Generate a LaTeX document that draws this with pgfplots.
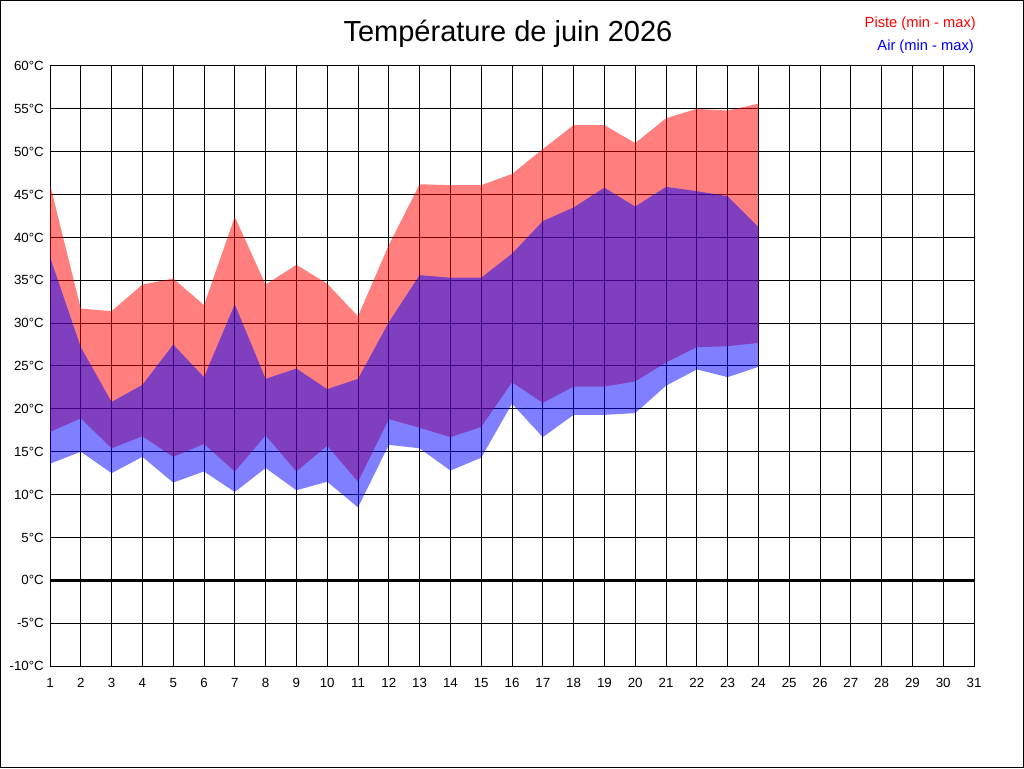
\documentclass[border=0pt]{standalone}
\usepackage{fontspec}
\setmainfont{Liberation Sans}
\usepackage{pgfplots}
\pgfplotsset{compat=1.18}
\usepgfplotslibrary{fillbetween}
\usepackage{pgfplotstable}
\definecolor{pred}{RGB}{255,0,0}
\definecolor{ablue}{RGB}{0,0,255}
\pgfplotstableread{
day pmin pmax amin amax
1 17.3 46.2 13.6 37.7
2 18.9 31.7 15.0 27.2
3 15.4 31.4 12.5 20.8
4 16.8 34.5 14.4 22.8
5 14.4 35.2 11.4 27.5
6 15.9 32.1 12.7 23.7
7 12.7 42.4 10.3 32.2
8 16.9 34.5 13.1 23.5
9 12.7 36.8 10.5 24.7
10 15.7 34.6 11.5 22.3
11 11.5 30.8 8.5 23.5
12 18.8 39.1 15.8 30.1
13 17.8 46.2 15.4 35.6
14 16.7 46.1 12.8 35.3
15 17.9 46.1 14.3 35.3
16 23.1 47.4 20.6 38.1
17 20.7 50.3 16.7 41.9
18 22.6 53.1 19.3 43.5
19 22.6 53.1 19.3 45.8
20 23.2 51.0 19.5 43.6
21 25.4 53.9 22.7 45.9
22 27.2 55.0 24.6 45.4
23 27.3 54.8 23.7 44.8
24 27.7 55.6 24.9 41.2
}\tempdata
\begin{document}
\begin{tikzpicture}
\draw[black, line width=1pt] (0.5pt,0.5pt) rectangle (1023.5pt,767.5pt);
\begin{axis}[
  at={(50pt,102pt)}, anchor=south west,
  scale only axis, width=924pt, height=600pt,
  xmin=1, xmax=31, ymin=-10, ymax=60,
  xtick={1,...,31}, ytick={-10,-5,...,60},
  yticklabels={-10°C,-5°C,0°C,5°C,10°C,15°C,20°C,25°C,30°C,35°C,40°C,45°C,50°C,55°C,60°C},
  /pgf/number format/assume math mode=true,
  major tick length=0pt,
  grid=major,
  grid style={black, line width=1pt},
  axis line style={black, line width=1pt},
  ticklabel style={font=\fontsize{13.3}{13.3}\selectfont, text=black, inner sep=0pt},
  yticklabel style={anchor=east, xshift=-6pt},
  xticklabel style={anchor=north, yshift=-12pt},
]
\addplot[name path=pmax, draw=none, forget plot] table[x=day, y=pmax] {\tempdata};
\addplot[name path=pmin, draw=none, forget plot] table[x=day, y=pmin] {\tempdata};
\addplot[name path=amax, draw=none, forget plot] table[x=day, y=amax] {\tempdata};
\addplot[name path=amin, draw=none, forget plot] table[x=day, y=amin] {\tempdata};
\addplot[pred, fill opacity=0.5, draw=none] fill between[of=pmax and pmin];
\addplot[ablue, fill opacity=0.5, draw=none] fill between[of=amax and amin];
\addplot[black, line width=3pt] coordinates {(1,0) (31,0)};
\end{axis}
\node[anchor=base, inner sep=0pt, font=\fontsize{29}{29}\selectfont] at (508pt,726pt) {Température de juin 2026};
\node[anchor=base east, inner sep=0pt, text=pred, font=\fontsize{14.7}{14.7}\selectfont] at (976pt,740pt) {Piste (min - max)};
\node[anchor=base east, inner sep=0pt, text=ablue, font=\fontsize{14.7}{14.7}\selectfont] at (974pt,717pt) {Air (min - max)};
\end{tikzpicture}
\end{document}
